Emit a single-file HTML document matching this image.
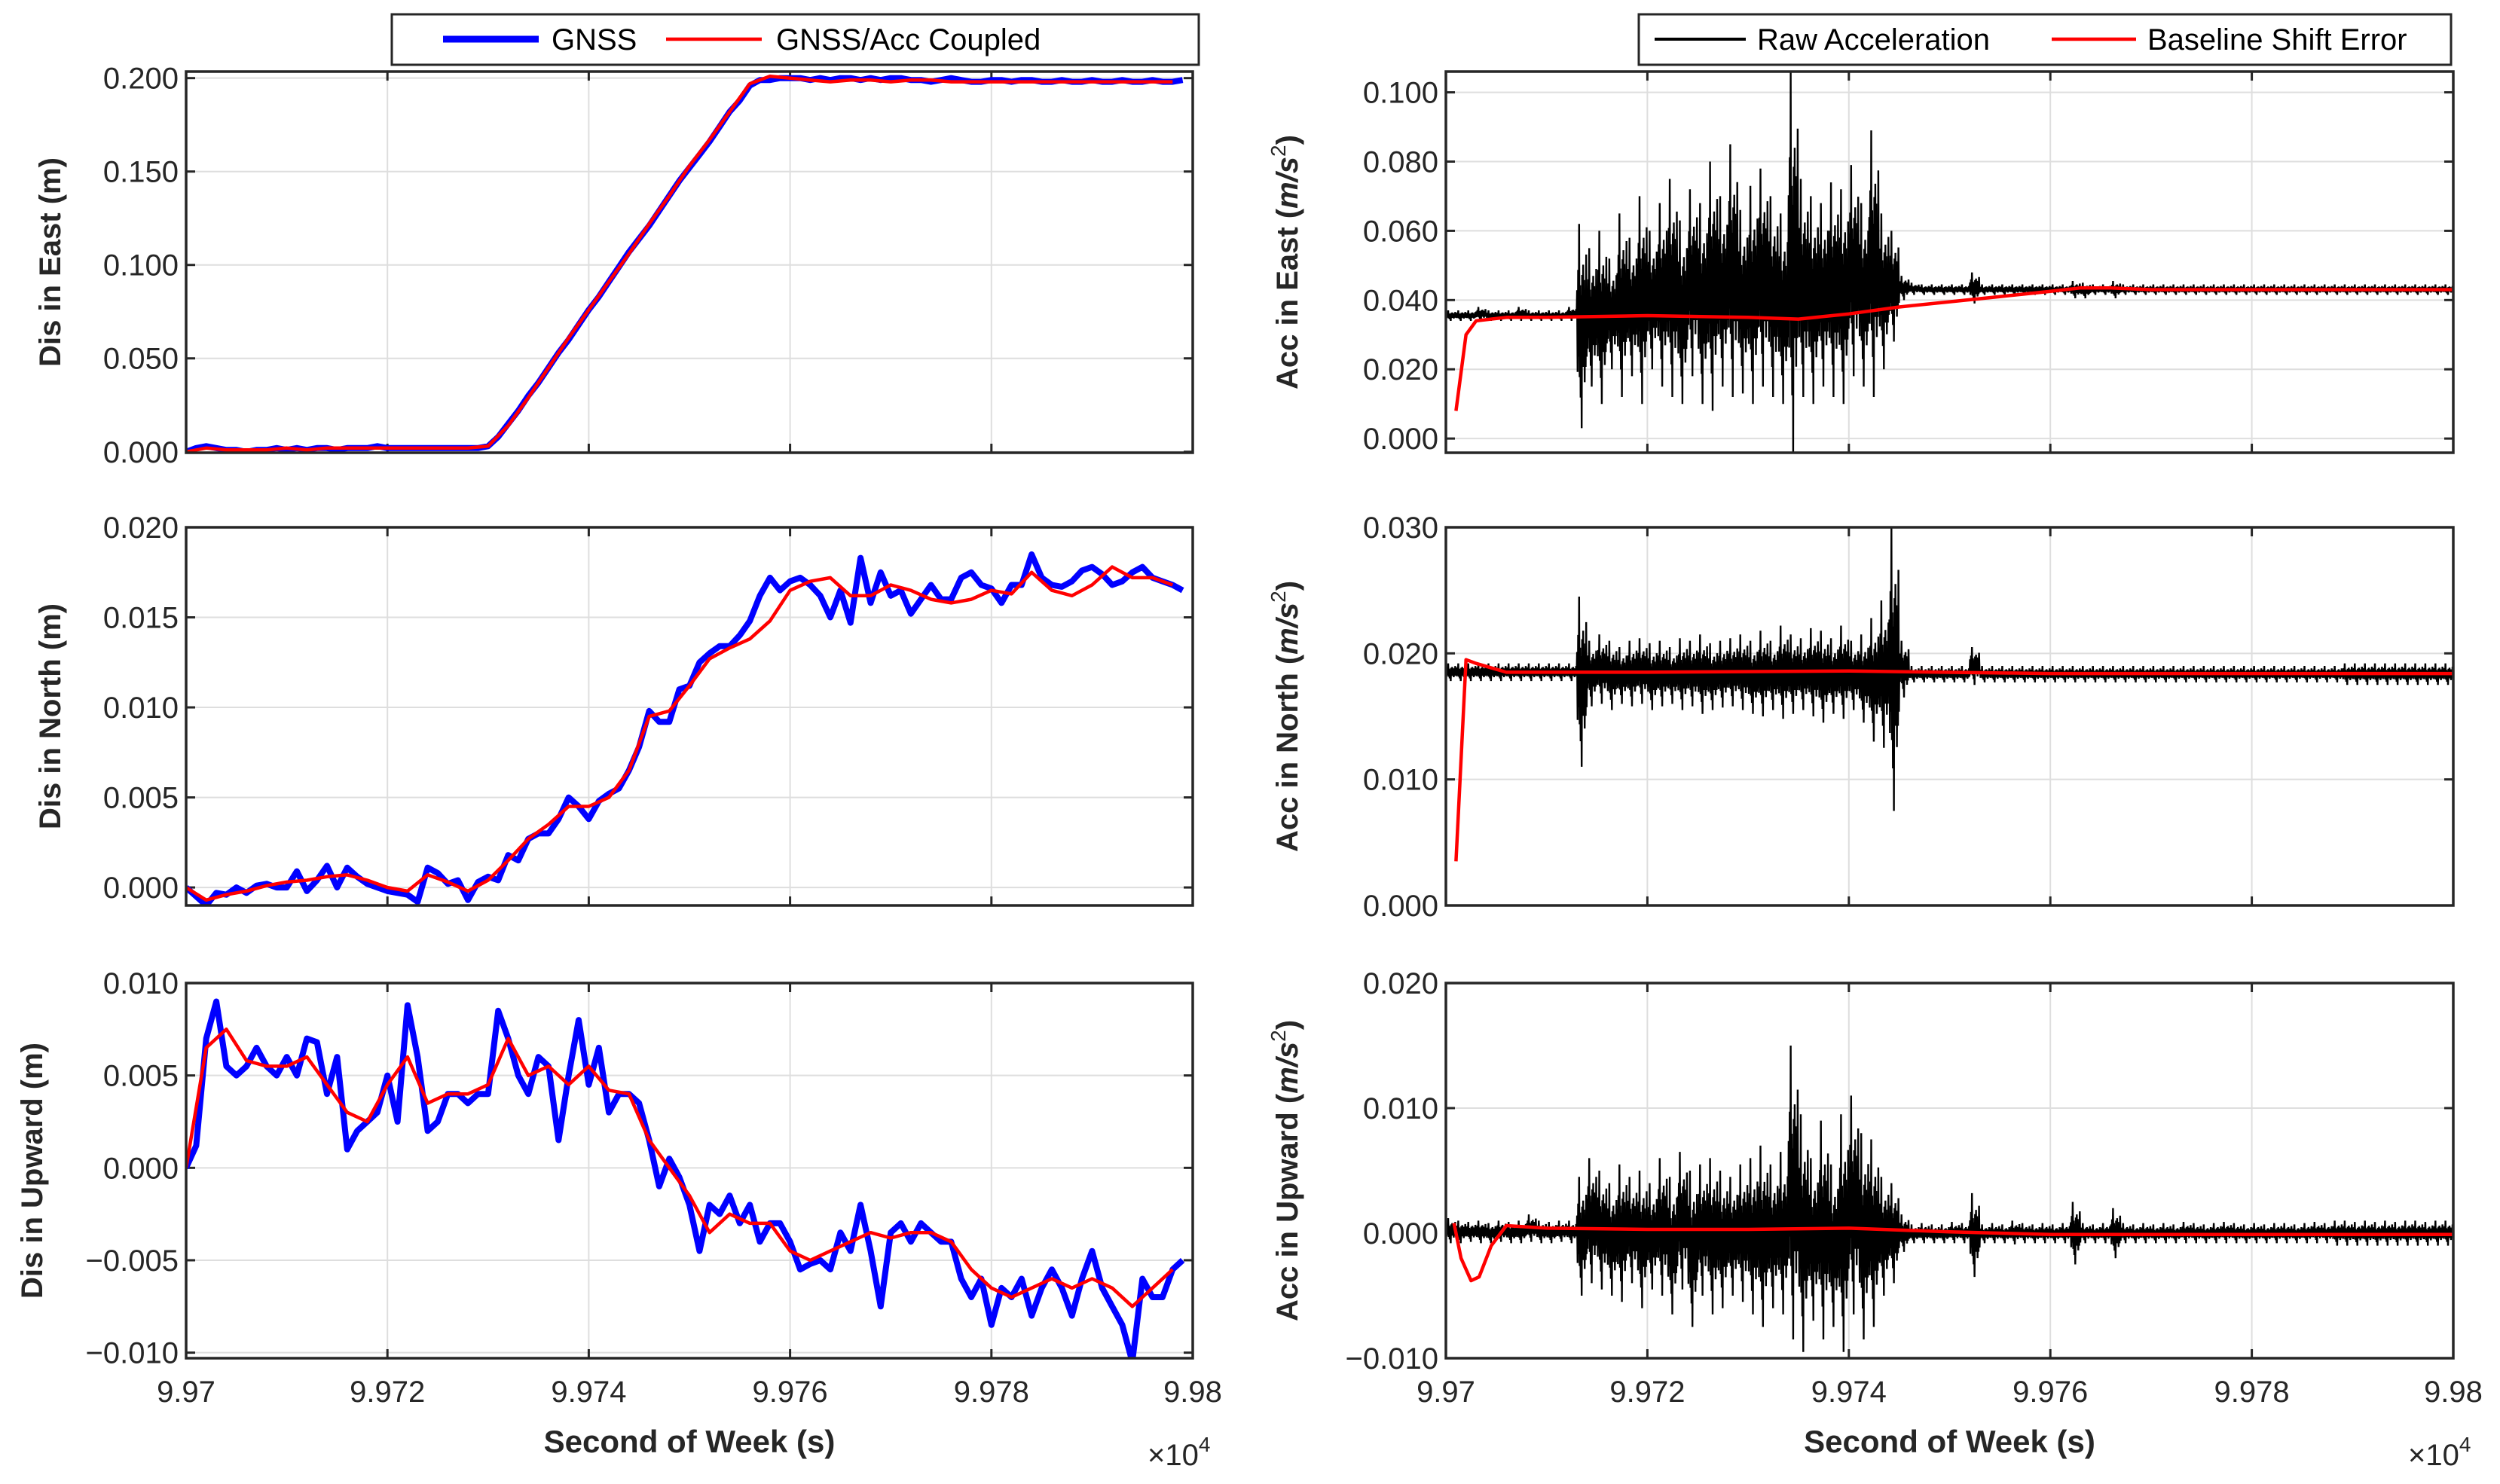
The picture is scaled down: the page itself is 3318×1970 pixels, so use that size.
<!DOCTYPE html>
<html><head><meta charset="utf-8"><style>
html,body{margin:0;padding:0;background:#fff;}
svg{display:block;font-family:"Liberation Sans",Arial,sans-serif;}
</style></head><body>
<svg id="fig" width="3318" height="1970" viewBox="0 0 3318 1970" xmlns="http://www.w3.org/2000/svg">
<rect width="3318" height="1970" fill="#fff"/>
</svg>
<script>
// ---- data ----
const tStart = 99700;
const xTicks = [99700, 99720, 99740, 99760, 99780, 99800];
const xTickLabels = ["9.97","9.972","9.974","9.976","9.978","9.98"];

const eastGnss = [0,0.002,0.003,0.002,0.001,0.001,0,0.001,0.001,0.002,0.001,0.002,0.001,0.002,0.002,0.001,0.002,0.002,0.002,0.003,0.002,0.002,0.002,0.002,0.002,0.002,0.002,0.002,0.002,0.002,0.003,
0.008,0.015,0.022,0.03,0.037,0.045,0.053,0.06,0.068,0.076,0.083,0.091,0.099,0.107,0.114,0.121,0.129,0.137,0.145,0.152,0.159,0.166,0.174,0.182,0.188,0.196,0.199,0.199,0.2,0.2,
0.2,0.199,0.2,0.199,0.2,0.2,0.199,0.2,0.199,0.2,0.2,0.199,0.199,0.198,0.199,0.2,0.199,0.198,0.198,0.199,0.199,0.198,0.199,0.199,0.198,0.198,0.199,0.198,0.198,0.199,0.198,0.198,0.199,0.198,0.198,0.199,0.198,0.198,0.199];
const eastCoupled = [0,0.002,0.001,0.001,0.001,0.002,0.001,0.002,0.002,0.002,0.002,0.002,0.002,0.002,0.002,0.003,0.014,0.029,0.045,0.061,0.076,0.091,0.106,0.122,0.137,0.153,0.167,0.182,0.197,0.201,0.2,0.199,0.198,0.199,0.199,0.198,0.199,0.199,0.198,0.198,0.198,0.198,0.198,0.198,0.198,0.198,0.198,0.198,0.198,0.198];

const northGnss = [0,-0.0005,-0.001,-0.0003,-0.0004,0,-0.0003,0.0001,0.0002,0,0,
0.0009,-0.0002,0.0004,0.0012,0,0.0011,0.0006,0.0002,0,-0.0002,
-0.0003,-0.0004,-0.0008,0.0011,0.0008,0.0002,0.0004,-0.0007,0.0003,0.0006,
0.0004,0.0018,0.0015,0.0027,0.003,0.003,0.0038,0.005,0.0045,0.0038,
0.0048,0.0052,0.0055,0.0065,0.0078,0.0098,0.0092,0.0092,0.011,0.0112,
0.0125,0.013,0.0134,0.0134,0.014,0.0148,0.0162,0.0172,0.0165,0.017,
0.0172,0.0168,0.0162,0.015,0.0165,0.0147,0.0183,0.0158,0.0175,0.0162,
0.0165,0.0152,0.016,0.0168,0.016,0.016,0.0172,0.0175,0.0168,0.0166,
0.0158,0.0168,0.0168,0.0185,0.0172,0.0168,0.0167,0.017,0.0176,0.0178,
0.0174,0.0168,0.017,0.0175,0.0178,0.0172,0.017,0.0168,0.0165];
const northCoupled = [0,-0.0007,-0.0004,-0.0002,0.0001,0.0003,0.0004,0.0006,0.0007,0.0004,0,-0.0002,0.0007,0.0003,-0.0002,0.0004,0.0015,0.0027,0.0035,0.0045,0.0045,0.005,0.0065,0.0095,0.0098,0.0112,0.0127,0.0133,0.0138,0.0148,0.0165,0.017,0.0172,0.0162,0.0162,0.0168,0.0165,0.016,0.0158,0.016,0.0165,0.0163,0.0175,0.0165,0.0162,0.0168,0.0178,0.0172,0.0172,0.0168];

const upGnss = [0,0.0012,0.007,0.009,0.0055,0.005,0.0055,0.0065,0.0055,0.005,0.006,0.005,0.007,0.0068,0.004,0.006,0.001,0.002,0.0025,0.003,0.005,0.0025,0.0088,0.006,0.002,0.0025,0.004,0.004,0.0035,0.004,0.004,0.0085,0.007,0.005,0.004,0.006,0.0055,0.0015,0.005,0.008,0.0045,0.0065,0.003,0.004,0.004,0.0035,0.0015,-0.001,0.0005,-0.0005,-0.002,-0.0045,-0.002,-0.0025,-0.0015,-0.003,-0.002,-0.004,-0.003,-0.003,-0.004,-0.0055,-0.0052,-0.005,-0.0055,-0.0035,-0.0045,-0.002,-0.0045,-0.0075,-0.0035,-0.003,-0.004,-0.003,-0.0035,-0.004,-0.004,-0.006,-0.007,-0.006,-0.0085,-0.0065,-0.007,-0.006,-0.008,-0.0065,-0.0055,-0.0065,-0.008,-0.006,-0.0045,-0.0065,-0.0075,-0.0085,-0.0105,-0.006,-0.007,-0.007,-0.0055,-0.005];
const upCoupled = [0,0.0065,0.0075,0.0058,0.0055,0.0055,0.006,0.0045,0.003,0.0025,0.0045,0.006,0.0035,0.004,0.004,0.0045,0.007,0.005,0.0055,0.0045,0.0055,0.0042,0.004,0.0015,0,-0.0015,-0.0035,-0.0025,-0.003,-0.003,-0.0045,-0.005,-0.0045,-0.004,-0.0035,-0.0038,-0.0035,-0.0035,-0.004,-0.0055,-0.0065,-0.007,-0.0065,-0.006,-0.0065,-0.006,-0.0065,-0.0075,-0.0065,-0.0055];

// raw acceleration envelopes per 1 s bin (t0..)
const accEastHi = [0.037,0.037,0.037,0.038,0.037,0.037,0.037,0.038,0.037,0.037,0.037,0.037,0.038,
0.062,0.055,0.06,0.052,0.065,0.058,0.07,0.06,0.068,0.075,0.063,0.072,0.068,0.08,0.07,0.085,0.066,0.073,0.078,0.07,0.065,0.106,0.075,0.07,0.068,0.074,0.072,0.079,0.068,0.089,0.065,0.06,0.047,
0.045,0.0445,0.0445,0.0445,0.0445,0.0445,0.048,0.0445,0.0445,0.0445,0.0445,0.0445,0.0445,0.0445,0.0445,0.0445,0.0455,0.045,0.0445,0.0445,0.0455,0.0445,0.0445,0.0445,0.0445,0.0445,0.0445,0.0445,0.0445,0.0445,0.0445,0.0445,0.0445,0.0445,0.0445,0.0445,0.0445,0.0445,0.0445,0.0445,0.0445,0.0445,0.0445,0.0445,0.0445,0.0445,0.0445,0.0445,0.0445,0.0445,0.0445,0.0445,0.0445,0.0445,0.0445,0.0445,0.0445];
const accEastLo = [0.034,0.034,0.034,0.034,0.034,0.034,0.034,0.034,0.034,0.034,0.034,0.034,0.034,
0.003,0.015,0.01,0.02,0.012,0.018,0.01,0.02,0.015,0.012,0.01,0.018,0.01,0.008,0.015,0.012,0.013,0.01,0.015,0.012,0.01,-0.004,0.012,0.01,0.015,0.012,0.01,0.018,0.015,0.012,0.02,0.028,0.04,
0.0415,0.0415,0.0415,0.0415,0.0415,0.0415,0.039,0.0415,0.0415,0.0415,0.0415,0.0415,0.0415,0.0415,0.0415,0.0415,0.0405,0.0405,0.0415,0.0415,0.0405,0.0415,0.0415,0.0415,0.0415,0.0415,0.0415,0.0415,0.0415,0.0415,0.0415,0.0415,0.0415,0.0415,0.0415,0.0415,0.0415,0.0415,0.0415,0.0415,0.0415,0.0415,0.0415,0.0415,0.0415,0.0415,0.0415,0.0415,0.0415,0.0415,0.0415,0.0415,0.0415,0.0415,0.0415,0.0415,0.0415];
const accNorthHi = [0.0192,0.0192,0.0192,0.0192,0.0192,0.0192,0.0192,0.0192,0.0192,0.0192,0.0192,0.0192,0.0192,
0.0245,0.021,0.0215,0.021,0.0205,0.021,0.0212,0.0208,0.021,0.0205,0.0212,0.021,0.0215,0.0208,0.021,0.0212,0.0215,0.021,0.0218,0.021,0.0222,0.0215,0.0212,0.022,0.0218,0.0212,0.0222,0.021,0.0215,0.0228,0.0242,0.03,0.021,
0.019,0.019,0.019,0.019,0.019,0.019,0.0205,0.019,0.019,0.019,0.019,0.019,0.019,0.019,0.019,0.019,0.019,0.019,0.019,0.019,0.019,0.019,0.019,0.019,0.019,0.019,0.019,0.019,0.019,0.019,0.019,0.019,0.019,0.019,0.019,0.019,0.019,0.019,0.019,0.019,0.019,0.019,0.019,0.0192,0.0192,0.0192,0.0192,0.0192,0.0192,0.0192,0.0192,0.0192,0.0192,0.0192,0.0192,0.0192,0.0192];
const accNorthLo = [0.0178,0.0178,0.0178,0.0178,0.0178,0.0178,0.0178,0.0178,0.0178,0.0178,0.0178,0.0178,0.0178,
0.011,0.0158,0.016,0.0155,0.016,0.0158,0.016,0.0155,0.0158,0.016,0.0155,0.0158,0.0152,0.0155,0.0157,0.0158,0.0155,0.0152,0.015,0.0155,0.0148,0.0152,0.0155,0.015,0.0145,0.0152,0.0148,0.0155,0.0145,0.013,0.0125,0.0075,0.0165,
0.0177,0.0177,0.0177,0.0177,0.0177,0.0177,0.0175,0.0177,0.0177,0.0177,0.0177,0.0177,0.0177,0.0177,0.0177,0.0177,0.0177,0.0177,0.0177,0.0177,0.0177,0.0177,0.0177,0.0177,0.0177,0.0177,0.0177,0.0177,0.0177,0.0177,0.0177,0.0177,0.0177,0.0177,0.0177,0.0177,0.0177,0.0177,0.0177,0.0177,0.0177,0.0177,0.0177,0.0175,0.0175,0.0175,0.0175,0.0175,0.0175,0.0175,0.0175,0.0175,0.0175,0.0175,0.0175,0.0175,0.0175];
const accUpHi = [0.0012,0.001,0.0009,0.001,0.0008,0.001,0.0009,0.001,0.0015,0.001,0.0009,0.001,0.001,
0.0045,0.006,0.005,0.004,0.0055,0.0045,0.005,0.004,0.006,0.0045,0.0065,0.005,0.0055,0.006,0.005,0.0045,0.0055,0.006,0.007,0.0055,0.0065,0.015,0.0095,0.006,0.009,0.0055,0.0095,0.011,0.008,0.0075,0.0045,0.004,0.0015,
0.0007,0.0008,0.0007,0.0007,0.0009,0.0008,0.0032,0.0007,0.0008,0.0007,0.001,0.0008,0.0007,0.0008,0.0007,0.0008,0.0025,0.0008,0.0007,0.0008,0.002,0.0008,0.0007,0.0008,0.0007,0.0008,0.0007,0.0009,0.0008,0.0007,0.0008,0.0009,0.0008,0.0007,0.0008,0.0007,0.0008,0.0008,0.0007,0.0008,0.0009,0.0008,0.001,0.001,0.0009,0.001,0.0009,0.001,0.0009,0.001,0.001,0.0009,0.001,0.001,0.0009,0.001];
const accUpLo = [-0.0008,-0.0008,-0.0007,-0.0008,-0.0008,-0.0007,-0.0008,-0.0008,-0.0007,-0.0008,-0.0008,-0.0007,-0.0008,
-0.005,-0.004,-0.0045,-0.005,-0.0055,-0.004,-0.006,-0.0045,-0.005,-0.0065,-0.0045,-0.0075,-0.005,-0.0065,-0.006,-0.005,-0.0055,-0.0065,-0.0075,-0.006,-0.0065,-0.0085,-0.0095,-0.007,-0.0085,-0.0075,-0.0095,-0.0065,-0.0085,-0.0075,-0.005,-0.004,-0.0015,
-0.0008,-0.0008,-0.0008,-0.0008,-0.0008,-0.0008,-0.0035,-0.0008,-0.0008,-0.0008,-0.0009,-0.0008,-0.0008,-0.0008,-0.0008,-0.0008,-0.0025,-0.0008,-0.0008,-0.0008,-0.002,-0.0008,-0.0008,-0.0008,-0.0008,-0.0008,-0.0008,-0.0008,-0.0008,-0.0008,-0.0008,-0.0008,-0.0008,-0.0008,-0.0008,-0.0008,-0.0008,-0.0008,-0.0008,-0.0008,-0.0008,-0.0008,-0.001,-0.001,-0.001,-0.001,-0.001,-0.001,-0.001,-0.001,-0.001,-0.001,-0.001,-0.001,-0.001,-0.001];

const baseEastT = [99701,99702,99703,99706,99710,99720,99730,99735,99740,99745,99750,99755,99760,99763,99766,99770,99780,99800];
const baseEastV = [0.008,0.03,0.034,0.035,0.035,0.0355,0.035,0.0345,0.036,0.038,0.0395,0.041,0.0425,0.0435,0.0435,0.043,0.043,0.043];
const baseNorthT = [99701,99702,99703,99706,99720,99740,99760,99800];
const baseNorthV = [0.0035,0.0195,0.0192,0.0185,0.0185,0.0186,0.0184,0.0184];
const baseUpT = [99700.8,99701.5,99702.5,99703.3,99704.5,99706,99710,99720,99730,99740,99750,99760,99800];
const baseUpV = [0.0008,-0.002,-0.0038,-0.0035,-0.001,0.0006,0.0004,0.0003,0.0003,0.0004,0.0001,-0.0001,-0.0001];

const leftTicks = [[0,0.05,0.1,0.15,0.2],[0,0.005,0.01,0.015,0.02],[-0.01,-0.005,0,0.005,0.01]];
const rightTicks = [[0,0.02,0.04,0.06,0.08,0.1],[0,0.01,0.02,0.03],[-0.01,0,0.01,0.02]];

// ---- drawing ----
const NS = "http://www.w3.org/2000/svg";
const svg = document.getElementById("fig");
function el(tag, attrs, parent, text) {
  const e = document.createElementNS(NS, tag);
  for (const k in attrs) e.setAttribute(k, attrs[k]);
  if (text !== undefined) e.textContent = text;
  (parent || svg).appendChild(e);
  return e;
}
const rows = [[95, 601], [700, 1202], [1305, 1803]];
const cols = [[247, 1583], [1919, 3256]];
const leftRanges = [[-0.0005, 0.2035], [-0.001, 0.02], [-0.0103, 0.01]];
const rightRanges = [[-0.0041, 0.106], [0, 0.03], [-0.01, 0.02]];
const leftNames = ["east-displacement-panel","north-displacement-panel","upward-displacement-panel"];
const rightNames = ["east-acceleration-panel","north-acceleration-panel","upward-acceleration-panel"];
const leftLabels = ["Dis in East (m)","Dis in North (m)","Dis in Upward (m)"];
const rightLabels = ["East","North","Upward"];

function makeAxes(col, row, yr) {
  const [x0, x1] = col, [y0, y1] = row;
  return {
    x0, x1, y0, y1,
    sx: t => x0 + (t - 99700) / 100 * (x1 - x0),
    sy: v => y1 - (v - yr[0]) / (yr[1] - yr[0]) * (y1 - y0)
  };
}
function fmt(v) { const s = Math.abs(v).toFixed(3); return (v < 0 ? "\u2212" : "") + s; }

function drawFrame(g, ax, ticks, showX) {
  const grid = el("g", {stroke: "#dedede", "stroke-width": 2}, g);
  
  
  xTicks.forEach(t => el("line", {x1: ax.sx(t), x2: ax.sx(t), y1: ax.y0, y2: ax.y1}, grid));
  ticks.forEach(v => el("line", {x1: ax.x0, x2: ax.x1, y1: ax.sy(v), y2: ax.sy(v)}, grid));
  const yt = el("g", {"font-size": 40, fill: "#262626", "text-anchor": "end"}, g);
  
  
  ticks.forEach(v => {
    el("text", {x: ax.x0 - 10, y: ax.sy(v) + 14}, yt, fmt(v));
    el("line", {x1: ax.x0, x2: ax.x0 + 12, y1: ax.sy(v), y2: ax.sy(v), stroke: "#262626", "stroke-width": 3}, g);
    el("line", {x1: ax.x1, x2: ax.x1 - 12, y1: ax.sy(v), y2: ax.sy(v), stroke: "#262626", "stroke-width": 3}, g);
  });
  xTicks.forEach(t => {
    el("line", {x1: ax.sx(t), x2: ax.sx(t), y1: ax.y1, y2: ax.y1 - 12, stroke: "#262626", "stroke-width": 3}, g);
    el("line", {x1: ax.sx(t), x2: ax.sx(t), y1: ax.y0, y2: ax.y0 + 12, stroke: "#262626", "stroke-width": 3}, g);
  });
  if (showX) {
    const xt = el("g", {"font-size": 40, fill: "#262626", "text-anchor": "middle"}, g);
    
    
    xTicks.forEach((t, i) => el("text", {x: ax.sx(t), y: ax.y1 + 58}, xt, xTickLabels[i]));
  }
}
function frameBox(g, ax) {
  el("rect", {x: ax.x0, y: ax.y0, width: ax.x1 - ax.x0, height: ax.y1 - ax.y0, fill: "none", stroke: "#262626", "stroke-width": 3.5}, g);
}
function linePath(g, ax, ts, vs, color, w, name) {
  let d = "";
  ts.forEach((t, i) => { d += (i ? "L" : "M") + ax.sx(t).toFixed(1) + "," + ax.sy(vs[i]).toFixed(1); });
  const p = el("path", {d, fill: "none", stroke: color, "stroke-width": w, "stroke-linejoin": "round"}, g);
  
  
  return p;
}
// dense oscillation rendering inside each bin's envelope
const osc = [0.35,-0.45,0.55,-0.3,1,-0.5,0.4,-0.7,0.3,-1,0.5,-0.35,0.6,-0.4,0.45,-0.55,0.3,-0.4,0.7,-0.3];
function rawPath(g, ax, hi, lo, name) {
  let d = "";
  hi.forEach((h, i) => {
    const l = lo[i], mid = (h + l) / 2, half = (h - l) / 2;
    osc.forEach((k, j) => {
      const x = ax.sx(tStart + i + (j + 0.5) / osc.length), y = ax.sy(mid + k * half);
      d += (d ? "L" : "M") + x.toFixed(1) + "," + y.toFixed(1);
    });
  });
  const p = el("path", {d, fill: "none", stroke: "#000", "stroke-width": 2.4}, g);
  
  
}
const idx = arr => arr.map((_, i) => tStart + i);
const idx2 = arr => arr.map((_, i) => tStart + 2 * i);

const gnssSets = [eastGnss, northGnss, upGnss];
const coupledSets = [eastCoupled, northCoupled, upCoupled];
const hiSets = [accEastHi, accNorthHi, accUpHi];
const loSets = [accEastLo, accNorthLo, accUpLo];
const baseT = [baseEastT, baseNorthT, baseUpT];
const baseV = [baseEastV, baseNorthV, baseUpV];

for (let r = 0; r < 3; r++) {
  const gl = el("g", {});
  
  
  const axL = makeAxes(cols[0], rows[r], leftRanges[r]);
  drawFrame(gl, axL, leftTicks[r], r === 2);
  const clipId = "cl" + r;
  const cp = el("clipPath", {id: clipId}, gl);
  el("rect", {x: axL.x0, y: axL.y0, width: axL.x1 - axL.x0, height: axL.y1 - axL.y0}, cp);
  const dl = el("g", {"clip-path": "url(#" + clipId + ")"}, gl);
  linePath(dl, axL, idx(gnssSets[r]), gnssSets[r], "#0000ff", 8, "gnss-line");
  linePath(dl, axL, idx2(coupledSets[r]), coupledSets[r], "#ff0000", 4.5, "coupled-line");
  frameBox(gl, axL);
  const yl = el("text", {transform: `translate(${r === 2 ? 56 : 80},${(rows[r][0] + rows[r][1]) / 2}) rotate(-90)`, "text-anchor": "middle", "font-size": 40, "font-weight": "bold", fill: "#262626"}, gl, leftLabels[r]);
  
  

  const gr = el("g", {});
  
  
  const axR = makeAxes(cols[1], rows[r], rightRanges[r]);
  drawFrame(gr, axR, rightTicks[r], r === 2);
  const clipId2 = "cr" + r;
  const cp2 = el("clipPath", {id: clipId2}, gr);
  el("rect", {x: axR.x0, y: axR.y0, width: axR.x1 - axR.x0, height: axR.y1 - axR.y0}, cp2);
  const dr = el("g", {"clip-path": "url(#" + clipId2 + ")"}, gr);
  rawPath(dr, axR, hiSets[r], loSets[r], "raw-acceleration-line");
  linePath(dr, axR, baseT[r], baseV[r], "#ff0000", 4.5, "baseline-shift-line");
  frameBox(gr, axR);
  const yr = el("text", {transform: `translate(1722,${(rows[r][0] + rows[r][1]) / 2}) rotate(-90)`, "text-anchor": "middle", "font-size": 40, "font-weight": "bold", fill: "#262626"}, gr);
  
  
  el("tspan", {}, yr, "Acc in " + rightLabels[r] + " (");
  el("tspan", {"font-style": "italic"}, yr, "m/s");
  el("tspan", {dy: -16, "font-size": 28, "font-weight": "normal"}, yr, "2");
  el("tspan", {dy: 16}, yr, ")");
}

[[cols[0], "left"], [cols[1], "right"]].forEach(([c, s]) => {
  const t = el("text", {x: (c[0] + c[1]) / 2, y: 1928, "text-anchor": "middle", "font-size": 42, "font-weight": "bold", fill: "#262626"}, svg, "Second of Week (s)");
  
  
  const m = el("text", {x: c[1] - 60, y: 1945, "font-size": 40, fill: "#262626"}, svg);
  
  
  el("tspan", {}, m, "\u00d710");
  el("tspan", {dy: -18, "font-size": 28}, m, "4");
});

function legend(name, bx, bw, items) {
  const g = el("g", {});
  
  
  el("rect", {x: bx, y: 19, width: bw, height: 67, fill: "#fff", stroke: "#262626", "stroke-width": 3}, g);
  items.forEach(it => {
    const e = el("g", {}, g);
    
    
    el("line", {x1: it.x1, x2: it.x2, y1: 52, y2: 52, stroke: it.c, "stroke-width": it.w}, e);
    el("text", {x: it.tx, y: 66, "font-size": 40, fill: "#000"}, e, it.label);
  });
}
legend("left-legend", 520, 1071, [
  {x1: 588, x2: 715, c: "#0000ff", w: 9, tx: 732, label: "GNSS"},
  {x1: 884, x2: 1011, c: "#ff0000", w: 4.5, tx: 1030, label: "GNSS/Acc Coupled"}
]);
legend("right-legend", 2175, 1078, [
  {x1: 2196, x2: 2317, c: "#000", w: 4, tx: 2332, label: "Raw Acceleration"},
  {x1: 2723, x2: 2835, c: "#ff0000", w: 4.5, tx: 2850, label: "Baseline Shift Error"}
]);
</script>
</body></html>
